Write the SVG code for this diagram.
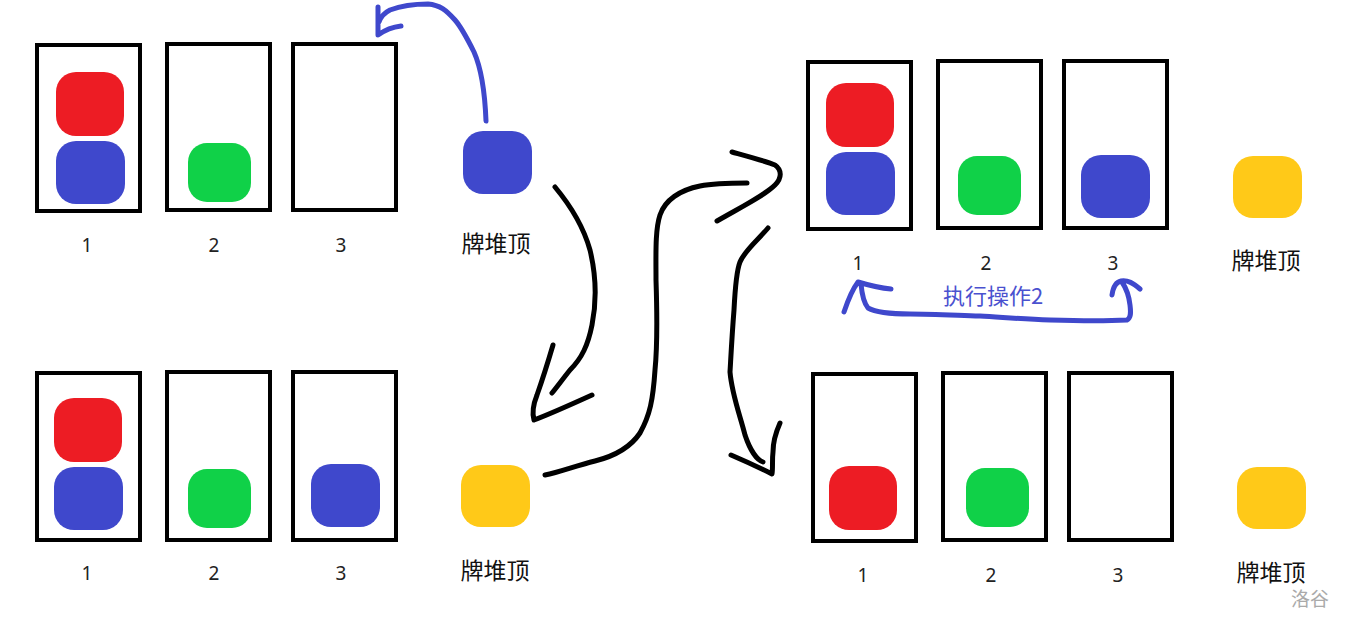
<svg xmlns="http://www.w3.org/2000/svg" width="1350" height="629" viewBox="0 0 1350 629">
<style>
.box{fill:none;stroke:#000;stroke-width:4}
.red{fill:#ed1c24}
.blue{fill:#3f48cc}
.green{fill:#10d148}
.yellow{fill:#ffc918}
.num{font-family:"Noto Sans","Noto Sans CJK SC",sans-serif;font-size:19px;fill:#222;text-anchor:middle}
.lbl{font-family:"Noto Sans CJK SC",sans-serif;font-size:23px;fill:#111;text-anchor:middle}
.ink{fill:none;stroke:#000;stroke-width:5;stroke-linecap:round;stroke-linejoin:round}
.bink{fill:none;stroke:#3f48cc;stroke-width:5;stroke-linecap:round;stroke-linejoin:round}
</style>
<rect width="1350" height="629" fill="#fff"/>

<!-- Top-left state -->
<g id="tl-pile1">
<rect class="box" x="37" y="45" width="103" height="166"/>
<rect class="red" x="56" y="72" width="68" height="64" rx="20"/>
<rect class="blue" x="56" y="141" width="69" height="63" rx="20"/>
<text class="num" x="87" y="252">1</text>
</g>
<g id="tl-pile2">
<rect class="box" x="167" y="44" width="103" height="166"/>
<rect class="green" x="188" y="143" width="63" height="59" rx="19"/>
<text class="num" x="214" y="252">2</text>
</g>
<g id="tl-pile3">
<rect class="box" x="293" y="44" width="103" height="166"/>
<text class="num" x="341" y="252">3</text>
</g>
<g id="tl-top">
<rect class="blue" x="463" y="131" width="69" height="63" rx="20"/>
<text class="lbl" x="496" y="252">牌堆顶</text>
</g>

<!-- Bottom-left state -->
<g id="bl-pile1">
<rect class="box" x="37" y="373" width="103" height="167"/>
<rect class="red" x="54" y="398" width="68" height="64" rx="20"/>
<rect class="blue" x="54" y="467" width="69" height="63" rx="20"/>
<text class="num" x="87" y="580">1</text>
</g>
<g id="bl-pile2">
<rect class="box" x="167" y="372" width="103" height="168"/>
<rect class="green" x="188" y="469" width="63" height="59" rx="19"/>
<text class="num" x="214" y="580">2</text>
</g>
<g id="bl-pile3">
<rect class="box" x="293" y="372" width="103" height="168"/>
<rect class="blue" x="311" y="464" width="69" height="63" rx="20"/>
<text class="num" x="341" y="580">3</text>
</g>
<g id="bl-top">
<rect class="yellow" x="461" y="465" width="69" height="62" rx="20"/>
<text class="lbl" x="495" y="579">牌堆顶</text>
</g>

<!-- Top-right state -->
<g id="tr-pile1">
<rect class="box" x="808" y="62" width="103" height="167"/>
<rect class="red" x="826" y="83" width="68" height="64" rx="20"/>
<rect class="blue" x="826" y="152" width="69" height="63" rx="20"/>
<text class="num" x="858" y="270">1</text>
</g>
<g id="tr-pile2">
<rect class="box" x="938" y="61" width="103" height="167"/>
<rect class="green" x="958" y="156" width="63" height="59" rx="19"/>
<text class="num" x="986" y="270">2</text>
</g>
<g id="tr-pile3">
<rect class="box" x="1064" y="61" width="103" height="167"/>
<rect class="blue" x="1081" y="155" width="69" height="63" rx="20"/>
<text class="num" x="1113" y="270">3</text>
</g>
<g id="tr-top">
<rect class="yellow" x="1233" y="156" width="69" height="62" rx="20"/>
<text class="lbl" x="1266" y="269">牌堆顶</text>
</g>

<!-- Bottom-right state -->
<g id="br-pile1">
<rect class="box" x="813" y="374" width="103" height="167"/>
<rect class="red" x="829" y="466" width="68" height="64" rx="20"/>
<text class="num" x="863" y="582">1</text>
</g>
<g id="br-pile2">
<rect class="box" x="943" y="373" width="103" height="167"/>
<rect class="green" x="966" y="468" width="63" height="59" rx="19"/>
<text class="num" x="991" y="582">2</text>
</g>
<g id="br-pile3">
<rect class="box" x="1069" y="373" width="103" height="167"/>
<text class="num" x="1118" y="582">3</text>
</g>
<g id="br-top">
<rect class="yellow" x="1237" y="467" width="69" height="62" rx="20"/>
<text class="lbl" x="1271" y="581">牌堆顶</text>
</g>

<text id="op-label" x="993" y="304" font-family="'Noto Sans CJK SC',sans-serif" font-size="22" fill="#4a51cf" text-anchor="middle">执行操作2</text>
<text id="watermark" x="1310" y="606" font-family="'Noto Sans CJK SC',sans-serif" font-size="19" fill="#aaa" text-anchor="middle">洛谷</text>

<!-- Connectors -->
<g id="connectors">
<path class="bink" d="M486,121 C485,95 482,70 474,52 C468,40 462,28 455,20 C446,10 440,5 428,4 C412,4 398,7 390,10 C384,13 381,16 379,22 M378,7 C378,16 378,26 378,35 C385,30 392,27 401,26"/>
<path class="ink" d="M555,187 C570,205 583,225 590,250 C596,275 597,300 592,325 C588,345 582,358 570,370 C562,380 557,387 552,393"/>
<path class="ink" d="M553,345 C548,362 543,378 537,395 C533,405 532,413 534,420 C550,414 570,405 592,395"/>
<path class="ink" d="M545,475 C560,472 575,466 595,461 C615,456 630,448 640,433 C650,415 653,400 655,370 C658,340 657,310 656,280 C656,255 655,230 660,215 C665,200 680,190 700,186 C715,183 730,183 747,183"/>
<path class="ink" d="M732,152 C750,157 765,161 775,165 C782,170 782,178 775,185 C765,195 745,205 717,221"/>
<path class="ink" d="M768,228 C758,240 745,250 740,262 C736,272 735,290 734,310 C732,335 731,355 730,372 C732,395 740,415 745,435 C750,450 757,460 763,462"/>
<path class="ink" d="M780,423 C776,432 773,440 773,452 C772,460 773,467 772,474 C760,468 745,461 731,455"/>
<path class="bink" d="M1112,295 C1113,288 1116,282 1121,281 C1128,280 1133,283 1140,289 M1122,282 C1126,288 1129,296 1130,305 C1131,313 1131,318 1127,320 C1110,321 1080,321 1050,320 C1020,319 1000,317 980,316 C950,315 930,314 910,314 C890,314 875,312 868,308 C864,303 862,295 861,284 M844,312 C848,300 852,290 858,282 C868,285 880,288 891,289"/>
</g>
</svg>
